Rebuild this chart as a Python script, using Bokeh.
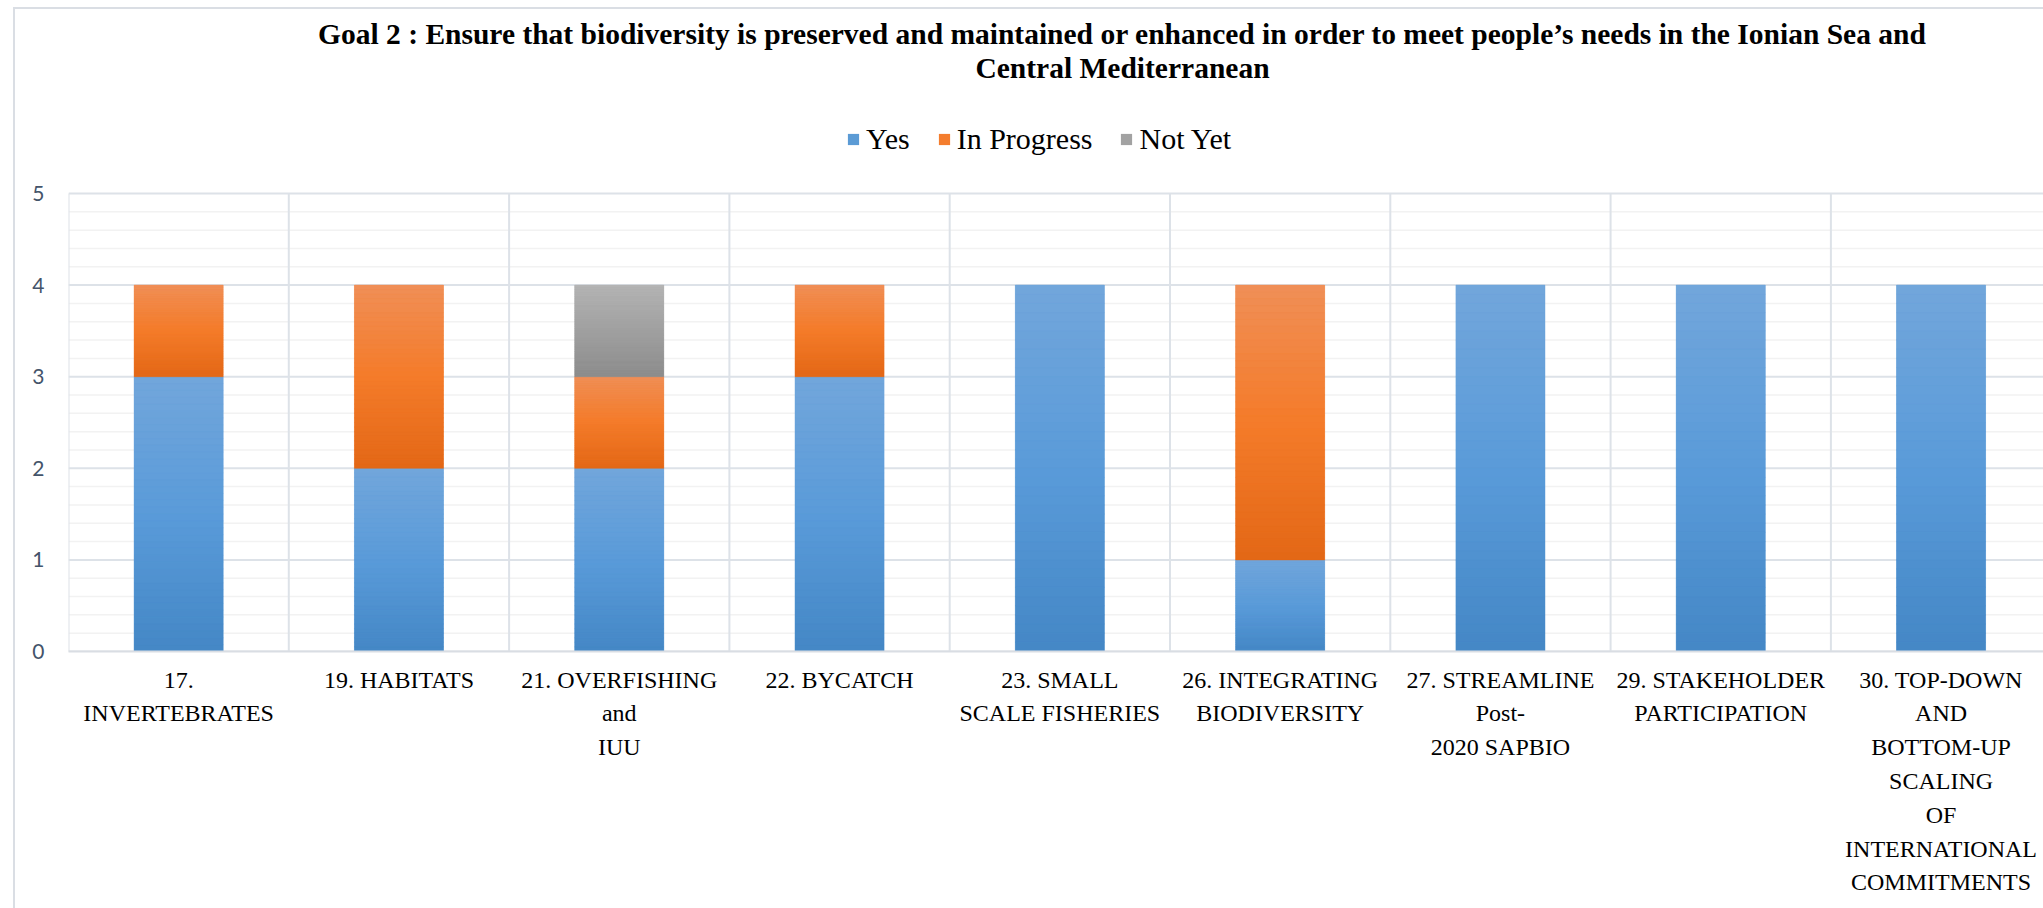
from bokeh.plotting import figure
from bokeh.models import (Range1d, FixedTicker, Legend, LegendItem, Label, ColumnDataSource)
from bokeh.embed import file_html
from bokeh.resources import INLINE

# ---------------- data ----------------
categories = ["17. INVERTEBRATES", "19. HABITATS", "21. OVERFISHING and IUU", "22. BYCATCH",
              "23. SMALL SCALE FISHERIES", "26. INTEGRATING BIODIVERSITY",
              "27. STREAMLINE Post-2020 SAPBIO", "29. STAKEHOLDER PARTICIPATION",
              "30. TOP-DOWN AND BOTTOM-UP SCALING OF INTERNATIONAL COMMITMENTS"]
tick_labels = ["17.\nINVERTEBRATES", "19. HABITATS", "21. OVERFISHING\nand\nIUU", "22. BYCATCH",
               "23. SMALL\nSCALE FISHERIES", "26. INTEGRATING\nBIODIVERSITY",
               "27. STREAMLINE\nPost-\n2020 SAPBIO", "29. STAKEHOLDER\nPARTICIPATION",
               "30. TOP-DOWN\nAND\nBOTTOM-UP\nSCALING\nOF\nINTERNATIONAL\nCOMMITMENTS"]
yes = [3, 2, 2, 3, 4, 1, 4, 4, 4]
in_progress = [1, 2, 1, 1, 0, 3, 0, 0, 0]
not_yet = [0, 0, 1, 0, 0, 0, 0, 0, 0]
series_names = ["Yes", "In Progress", "Not Yet"]
y_ticks = [0, 1, 2, 3, 4, 5]
title_lines = ["Goal 2 : Ensure that biodiversity is preserved and maintained or enhanced in order to meet people\u2019s needs in the Ionian Sea and",
               "Central Mediterranean"]

# ---------------- styles ----------------
mid_colors = ["#5b9bd5", "#f47d2e", "#a2a2a2"]
grad_stops = [["#72a6db", "#5a9bd9", "#4487c6"],
              ["#f08f57", "#f47b2a", "#e36816"],
              ["#b4b4b4", "#a0a0a0", "#8c8c8c"]]
serif = "Liberation Serif"
BAR_W = 0.404
PX_PER_CAT = 220.3      # pixels per category
PX_PER_UNIT = 91.6      # pixels per y unit
FRAME_LEFT, FRAME_BOTTOM, FRAME_W = 68, 651, 2043 - 68
X_END = FRAME_W / PX_PER_CAT
Y_END = FRAME_BOTTOM / PX_PER_UNIT


def dx(px):  # canvas x -> data x
    return (px - FRAME_LEFT) / PX_PER_CAT


def dy(py):  # canvas y -> data y
    return (FRAME_BOTTOM - py) / PX_PER_UNIT


n = len(categories)
xs = [i + 0.5 for i in range(n)]
src = ColumnDataSource(dict(x=xs, **{"Yes": yes, "In Progress": in_progress, "Not Yet": not_yet}))

border_css = ("linear-gradient(#dadee4,#dadee4) 13px 7px / 2px 100% no-repeat, "
              "linear-gradient(#dadee4,#dadee4) 13px 7px / 100% 2px no-repeat, white")
p = figure(width=2043, height=908, output_backend="svg", toolbar_location=None, title=None,
           x_range=Range1d(0, X_END), y_range=Range1d(0, Y_END),
           min_border_left=FRAME_LEFT, min_border_right=0, min_border_top=0,
           min_border_bottom=908 - FRAME_BOTTOM,
           styles={"background": border_css})
p.outline_line_color = None
p.background_fill_alpha = 0
p.border_fill_alpha = 0
p.xgrid.visible = False
p.ygrid.visible = False

# grid lines (only inside the plotting area 0..5)
ymax = max(y_ticks)
minor_y = [k / 5 for k in range(ymax * 5 + 1) if k % 5 != 0]
p.segment(x0=[0] * len(minor_y), x1=[X_END] * len(minor_y), y0=minor_y, y1=minor_y,
          line_color="#f2f2f2", line_width=1.5, level="underlay")
p.segment(x0=[0] * len(y_ticks), x1=[X_END] * len(y_ticks), y0=y_ticks, y1=y_ticks,
          line_color="#dde2e8", line_width=2, level="underlay")
vx = list(range(n))
p.segment(x0=vx, x1=vx, y0=[0] * n, y1=[ymax] * n,
          line_color="#dde2e8", line_width=2, level="underlay")

renders = p.vbar_stack(series_names, x="x", width=BAR_W, source=src, color=mid_colors, line_color=None)


def hex2rgb(h):
    h = h.lstrip("#")
    return [int(h[i:i + 2], 16) for i in (0, 2, 4)]


def lerp(c1, c2, t):
    a, b = hex2rgb(c1), hex2rgb(c2)
    return "#%02x%02x%02x" % tuple(int(round(a[j] + (b[j] - a[j]) * t)) for j in range(3))


def grad(stops, t):
    if t < 0.5:
        return lerp(stops[0], stops[1], t / 0.5)
    return lerp(stops[1], stops[2], (t - 0.5) / 0.5)


K = 40
gx, gb, gt, gc = [], [], [], []
for i in range(n):
    base = 0
    for s, vals in enumerate([yes, in_progress, not_yet]):
        v = vals[i]
        if v > 0:
            for k in range(K):
                top = base + v * (1 - k / K)
                bot = base + v * (1 - (k + 1) / K)
                gx.append(xs[i]); gb.append(bot); gt.append(top)
                gc.append(grad(grad_stops[s], (k + 0.5) / K))
        base += v
p.vbar(x=gx, bottom=gb, top=gt, width=BAR_W, fill_color=gc, line_color=gc, line_width=0.5)

# axes
p.yaxis.ticker = FixedTicker(ticks=y_ticks)
p.yaxis.axis_line_color = None
p.yaxis.major_tick_line_color = None
p.yaxis.minor_tick_line_color = None
p.yaxis.major_label_text_font = "Lato"
p.yaxis.major_label_text_font_size = "21px"
p.yaxis.major_label_text_color = "#44546a"
p.yaxis.major_label_standoff = 18

p.xaxis.ticker = FixedTicker(ticks=xs)
p.xaxis.major_label_overrides = {x: lab for x, lab in zip(xs, tick_labels)}
p.xaxis.axis_line_color = "#d9dde3"
p.xaxis.axis_line_width = 2
p.xaxis.major_tick_line_color = None
p.xaxis.minor_tick_line_color = None
p.xaxis.major_label_text_font = serif
p.xaxis.major_label_text_font_size = "24px"
p.xaxis.major_label_text_color = "black"
p.xaxis.major_label_text_line_height = 1.3
p.xaxis.major_label_standoff = 9

# legend (inside the frame, above the bars' area); location = bottom-left corner
legend = Legend(items=[LegendItem(label=nm, renderers=[r]) for nm, r in zip(series_names, renders)],
                orientation="horizontal", location=(846 - FRAME_LEFT, FRAME_BOTTOM - 156),
                glyph_width=14, glyph_height=14, label_standoff=6, spacing=27,
                padding=0, margin=0, border_line_color=None, background_fill_alpha=0,
                label_text_font=serif, label_text_font_size="30px", label_text_color="black")
p.add_layout(legend, "center")

# title (two centred lines)
for ln, base_y in zip(title_lines, [33, 67]):
    p.add_layout(Label(x=dx(1122), y=dy(base_y), text=ln,
                       text_align="center", text_baseline="alphabetic",
                       text_font=serif, text_font_style="bold", text_font_size="29.5px",
                       text_color="black"))

open("out.html", "w").write(file_html(p, INLINE))
